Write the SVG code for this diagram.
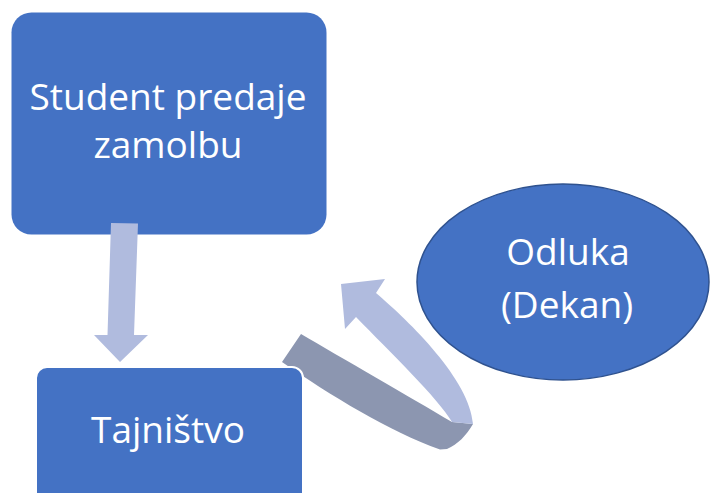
<svg xmlns="http://www.w3.org/2000/svg" width="710" height="493" viewBox="0 0 710 493">
<style>
.node{fill:#4472C4}
.lbl{font-family:"Open Sans","Noto Sans","Liberation Sans",sans-serif;font-size:37px;fill:#FFFFFF;text-anchor:middle}
.light{fill:#B0BBDE}
.dark{fill:#8C96B0}
</style>
<rect width="710" height="493" fill="#FFFFFF"/>
<g id="student">
<rect class="node" x="11.5" y="12.5" width="315" height="222" rx="20"/>
<text class="lbl" x="168" y="110">Student predaje</text>
<text class="lbl" x="168" y="158">zamolbu</text>
</g>
<g id="connectors">
<polygon class="light" points="111,223 138,223.5 134,335 148,335 120,362 94,335 107.5,335"/>
<path class="dark" d="M301,334 C340,357 410,397 452,422 L473,424 C466,436 458,444 447,449 L440,449.5 C390,432 330,395 282,362 Z"/>
<path class="light" d="M452,422 C438,398 390,352 356,317 L345,329 L341,284 L385,279 L376,293 C410,322 470,380 473,424 Z"/>
</g>
<g id="tajnistvo">
<rect class="node" x="36" y="367" width="267" height="140" rx="11" stroke="#FFFFFF" stroke-width="2"/>
<text class="lbl" x="168" y="443">Tajništvo</text>
</g>
<g id="odluka">
<ellipse class="node" cx="563" cy="282" rx="146" ry="98" stroke="#2F528F" stroke-width="1.5"/>
<text class="lbl" x="568" y="265">Odluka</text>
<text class="lbl" x="567" y="318">(Dekan)</text>
</g>
</svg>
